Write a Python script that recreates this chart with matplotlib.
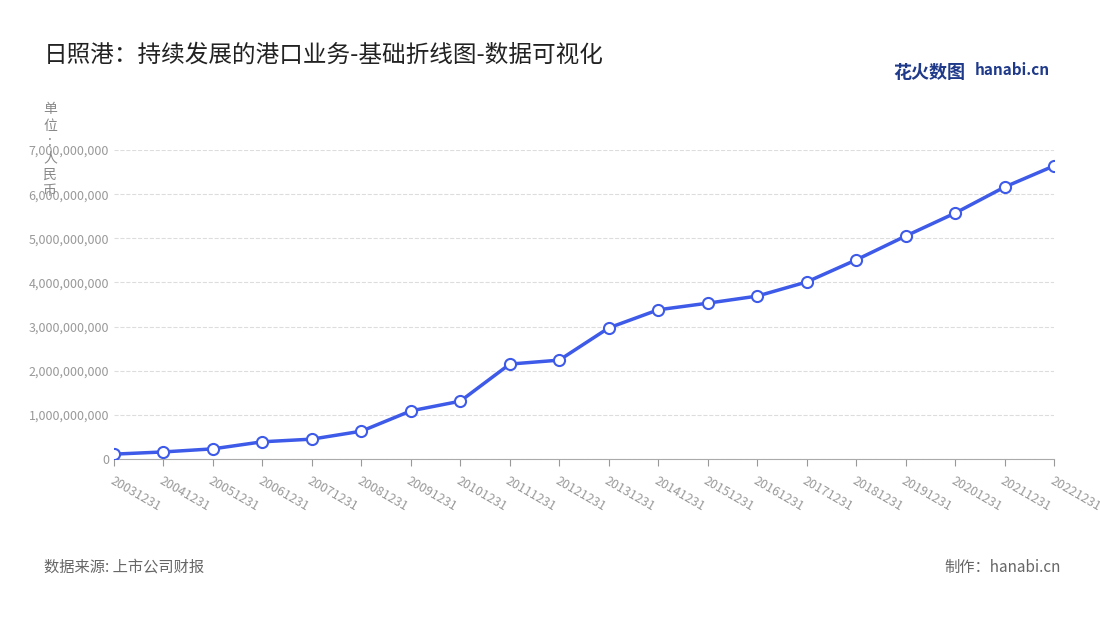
import matplotlib.pyplot as plt
from matplotlib.ticker import FuncFormatter

plt.rcParams['font.family'] = ['Noto Sans CJK SC', 'DejaVu Sans']

years = ['20031231', '20041231', '20051231', '20061231', '20071231', '20081231',
         '20091231', '20101231', '20111231', '20121231', '20131231', '20141231',
         '20151231', '20161231', '20171231', '20181231', '20191231', '20201231',
         '20211231', '20221231']
values = [0.11e9, 0.16e9, 0.23e9, 0.39e9, 0.45e9, 0.63e9, 1.09e9, 1.31e9,
          2.15e9, 2.24e9, 2.97e9, 3.38e9, 3.53e9, 3.69e9, 4.01e9, 4.51e9,
          5.05e9, 5.57e9, 6.16e9, 6.64e9]

fig = plt.figure(figsize=(11, 6.2), dpi=100)
ax = fig.add_axes([114 / 1100, 1 - 459 / 620, 940 / 1100, 309 / 620])

x = list(range(len(years)))
ax.plot(x, values, color='#3d5ae8', lw=2.5, marker='o', ms=8,
        mfc='white', mec='#3d5ae8', mew=1.5, zorder=3)

ax.set_xlim(0, len(years) - 1)
ax.set_ylim(0, 7e9)
ax.set_yticks([i * 1e9 for i in range(8)])
ax.yaxis.set_major_formatter(FuncFormatter(lambda v, p: f'{int(v):,}'))
ax.set_xticks(x)
ax.set_xticklabels(years, rotation=-30, ha='left', rotation_mode='anchor')
ax.tick_params(axis='both', labelsize=9, colors='#999999', length=0)
ax.tick_params(axis='x', length=5, color='#999999', pad=6)
ax.grid(axis='y', ls='--', color='#dddddd', lw=0.8)
for s in ['top', 'right', 'left']:
    ax.spines[s].set_visible(False)
ax.spines['bottom'].set_color('#aaaaaa')

fig.text(44 / 1100, 1 - 55 / 620, '日照港：持续发展的港口业务-基础折线图-数据可视化',
         fontsize=17, color='#222222', va='center')
fig.text(50 / 1100, 1 - 150 / 620, '单\n位\n:\n人\n民\n币', fontsize=10,
         color='#888888', ha='center', va='center', linespacing=1.2)
fig.text(893 / 1100, 1 - 73 / 620, '花火数图', fontsize=13, color='#1f3a8a',
         weight='bold', va='center')
fig.text(975 / 1100, 1 - 70 / 620, 'hanabi.cn', fontsize=11, color='#1f3a8a',
         weight='bold', va='center')
fig.text(44 / 1100, 1 - 567 / 620, '数据来源: 上市公司财报', fontsize=11,
         color='#666666', va='center')
fig.text(1061 / 1100, 1 - 567 / 620, '制作：hanabi.cn', fontsize=11,
         color='#666666', va='center', ha='right')

fig.savefig('out.png', dpi=100)
